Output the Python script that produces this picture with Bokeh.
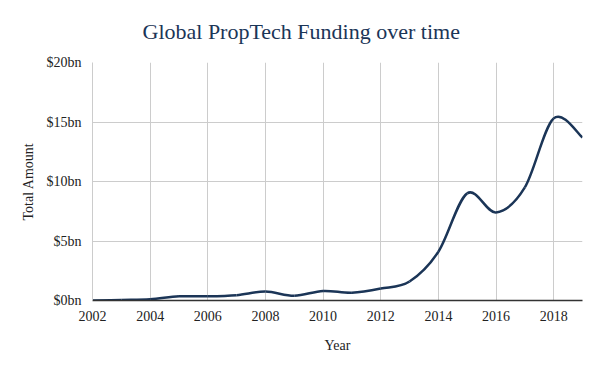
from bokeh.plotting import figure
from bokeh.models import FixedTicker, Range1d
from bokeh.embed import file_html
from bokeh.resources import INLINE
import numpy as np

# Data (US$ bn)
years = [2002, 2003, 2004, 2005, 2006, 2007, 2008, 2009, 2010,
         2011, 2012, 2013, 2014, 2015, 2016, 2017, 2018, 2019]
funding_bn = [0.0, 0.05, 0.1, 0.35, 0.35, 0.45, 0.75, 0.4, 0.8,
              0.65, 1.0, 1.6, 4.1, 9.0, 7.4, 9.5, 15.3, 13.7]
x_ticks = [2002, 2004, 2006, 2008, 2010, 2012, 2014, 2016, 2018]
y_ticks = [0, 5, 10, 15, 20]
y_tick_labels = ["$0bn", "$5bn", "$10bn", "$15bn", "$20bn"]

FONT = "Liberation Serif"
NAVY = "#1b3557"

p = figure(width=600, height=371, output_backend="svg", toolbar_location=None,
           x_range=Range1d(2002, 2019), y_range=Range1d(0, 20),
           min_border_left=92, min_border_right=18, min_border_top=62,
           min_border_bottom=71)

p.title.text = "Global PropTech Funding over time"
p.title.align = "left"
p.title.vertical_align = "top"
p.title.text_font = FONT
p.title.text_font_size = "22px"
p.title.text_font_style = "normal"
p.title.text_color = NAVY
p.title.standoff = 34
p.title.offset = 50

p.outline_line_color = None
p.background_fill_color = "white"
p.border_fill_color = "white"

# smooth curve via cubic bezier segments (Catmull-Rom control points)
xs = np.array(years, dtype=float)
ys = np.array(funding_bn, dtype=float)
n = len(xs)
x0, y0, x1, y1, cx0, cy0, cx1, cy1 = [], [], [], [], [], [], [], []
for i in range(n - 1):
    im1 = max(i - 1, 0)
    ip2 = min(i + 2, n - 1)
    x0.append(xs[i]); y0.append(ys[i])
    x1.append(xs[i + 1]); y1.append(ys[i + 1])
    cx0.append(xs[i] + (xs[i + 1] - xs[im1]) / 6)
    cy0.append(ys[i] + (ys[i + 1] - ys[im1]) / 6)
    cx1.append(xs[i + 1] - (xs[ip2] - xs[i]) / 6)
    cy1.append(ys[i + 1] - (ys[ip2] - ys[i]) / 6)

p.bezier(x0=x0, y0=y0, x1=x1, y1=y1, cx0=cx0, cy0=cy0, cx1=cx1, cy1=cy1,
         line_color=NAVY, line_width=2.5)

# axes
p.xaxis.ticker = FixedTicker(ticks=x_ticks)
p.yaxis.ticker = FixedTicker(ticks=y_ticks)
p.yaxis.major_label_overrides = {t: l for t, l in zip(y_ticks, y_tick_labels)}
p.xaxis.axis_label = "Year"
p.yaxis.axis_label = "Total Amount"

for ax in (p.xaxis, p.yaxis):
    ax.major_tick_line_color = None
    ax.minor_tick_line_color = None
    ax.major_label_text_font = FONT
    ax.major_label_text_font_size = "14px"
    ax.major_label_text_color = "#222222"
    ax.axis_label_text_font = FONT
    ax.axis_label_text_font_size = "14px"
    ax.axis_label_text_font_style = "normal"
    ax.axis_label_text_color = "#222222"

p.xaxis.axis_line_color = "#333333"
p.xaxis.axis_line_width = 1.5
p.yaxis.axis_line_color = "#cccccc"
p.xaxis.major_label_standoff = 4
p.yaxis.major_label_standoff = 5
p.xaxis.axis_label_standoff = 14
p.yaxis.axis_label_standoff = 8

p.grid.grid_line_color = "#cccccc"
p.grid.grid_line_width = 1

open("out.html", "w").write(file_html(p, INLINE))
